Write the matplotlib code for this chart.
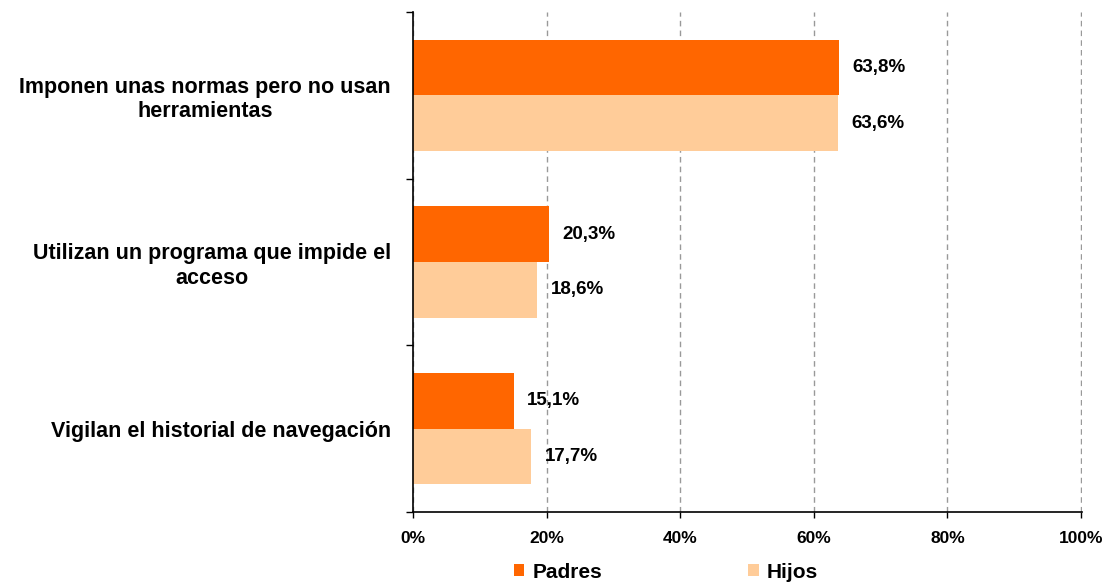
import matplotlib.pyplot as plt
import numpy as np
from matplotlib.ticker import FixedLocator

categorias = ['Imponen unas normas pero no usan\nherramientas',
              'Utilizan un programa que impide el\nacceso',
              'Vigilan el historial de navegación']
padres = [63.8, 20.3, 15.1]
hijos = [63.6, 18.6, 17.7]
etiquetas_padres = ['63,8%', '20,3%', '15,1%']
etiquetas_hijos = ['63,6%', '18,6%', '17,7%']

plt.rcParams['font.family'] = ['Liberation Sans', 'DejaVu Sans']
plt.rcParams['font.weight'] = 'bold'

fig = plt.figure(figsize=(11.1, 5.87), dpi=100)
ax = fig.add_axes([413 / 1110, 75 / 587, 669 / 1110, 500 / 587])

y = np.arange(len(categorias))[::-1].astype(float)
h = 1 / 3
ax.barh(y + h / 2, padres, height=h, color='#FF6600', label='Padres', zorder=2)
ax.barh(y - h / 2, hijos, height=h, color='#FFCC99', label='Hijos', zorder=2)

for yi, v, t in zip(y, padres, etiquetas_padres):
    ax.text(v + 2, yi + h / 2, t, va='center', ha='left', fontsize=13.5, fontweight='bold')
for yi, v, t in zip(y, hijos, etiquetas_hijos):
    ax.text(v + 2, yi - h / 2, t, va='center', ha='left', fontsize=13.5, fontweight='bold')

ax.set_xlim(0, 100.15)
ax.set_ylim(-0.5, len(categorias) - 0.5)
ax.set_xticks(np.arange(0, 101, 20))
ax.set_xticklabels([f'{v}%' for v in range(0, 101, 20)], fontsize=12.5, fontweight='bold')
ax.tick_params(axis='x', length=4, width=1, pad=10)

ax.set_yticks(y)
ax.set_yticklabels(categorias, fontsize=15.5, fontweight='bold', multialignment='center',
                   linespacing=1.2)
ax.tick_params(axis='y', which='major', length=0, pad=16)
ax.yaxis.set_minor_locator(FixedLocator([-0.5, 0.5, 1.5, 2.5]))
ax.tick_params(axis='y', which='minor', length=5, width=1)

ax.grid(axis='x', linestyle=(0, (4, 3)), color='#999999', linewidth=1, zorder=0)
for s in ['top', 'right']:
    ax.spines[s].set_visible(False)
for s in ['left', 'bottom']:
    ax.spines[s].set_linewidth(1.2)

leg = fig.legend(loc='center', bbox_to_anchor=(0.6, 0.025), ncol=2, frameon=False,
                 prop={'size': 15, 'weight': 'bold'}, handlelength=0.5, handleheight=0.5,
                 handletextpad=0.4, columnspacing=7)

fig.savefig('out.png', dpi=100)
